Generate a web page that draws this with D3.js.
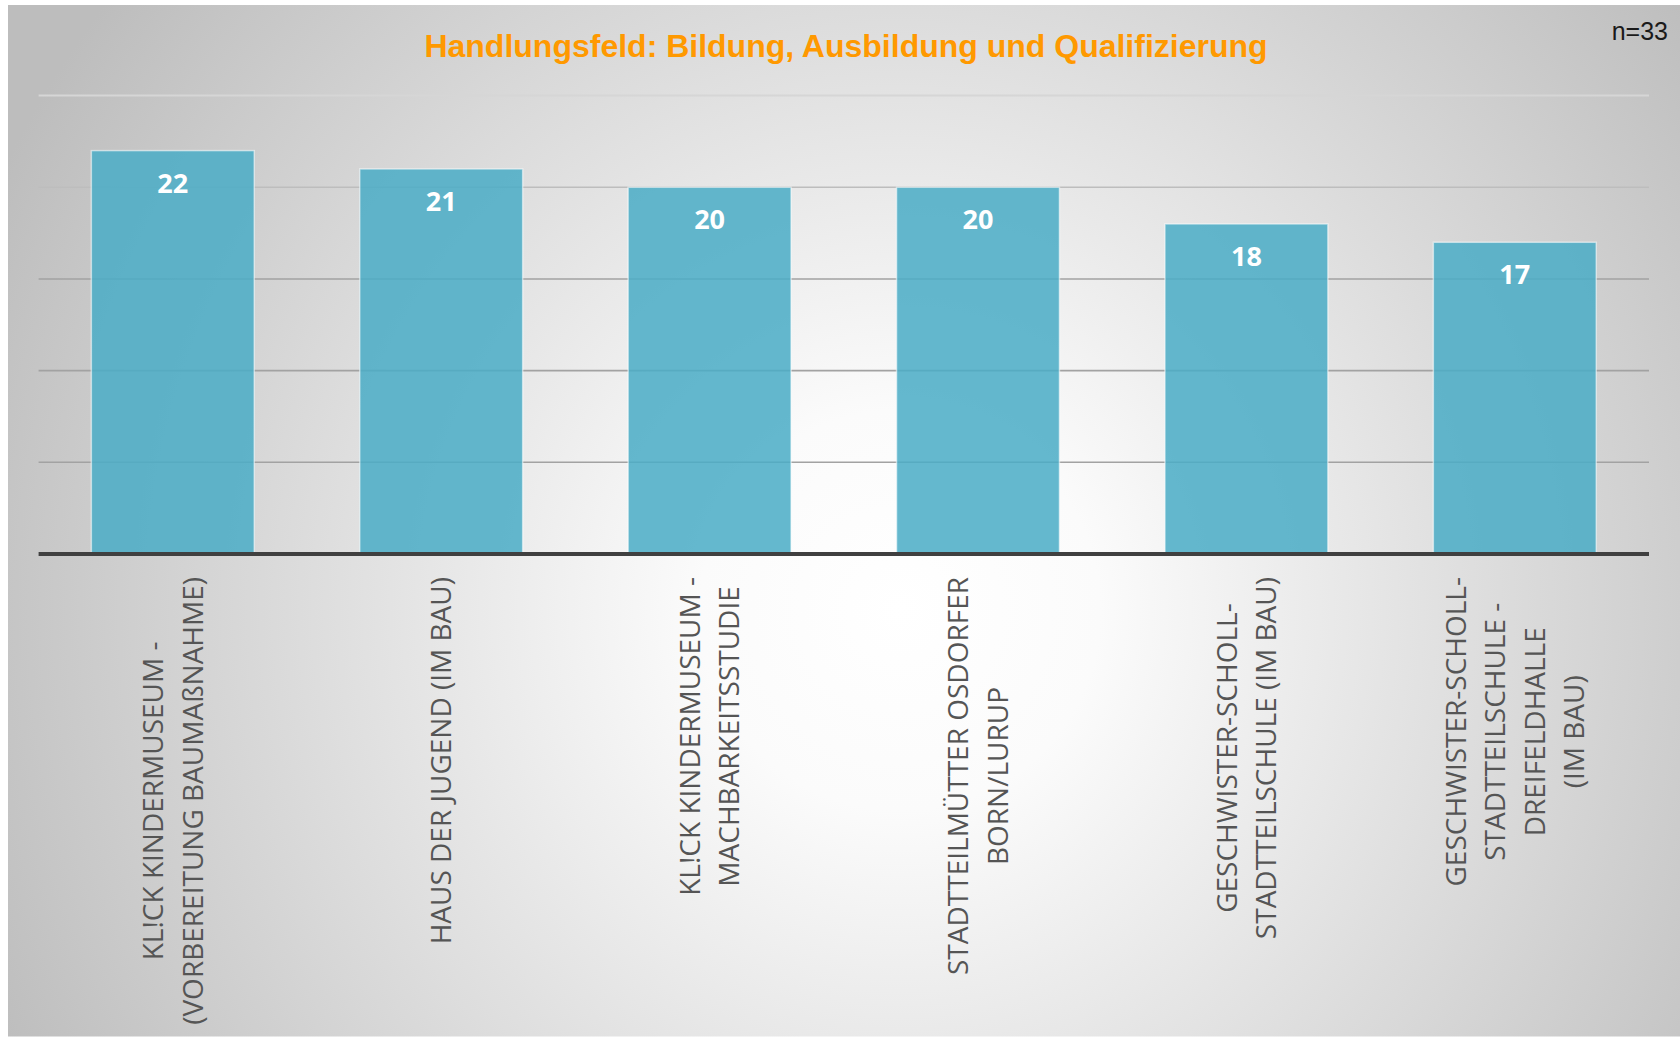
<!DOCTYPE html>
<html>
<head>
<meta charset="utf-8">
<script src="https://cdn.jsdelivr.net/npm/d3@7"></script>
<style>
  html, body { margin: 0; padding: 0; background: #fff; }
  svg { display: block; }
</style>
</head>
<body>
<svg id="chart"></svg>
<script>
const categories = [
  ["KL!CK KINDERMUSEUM -", "(VORBEREITUNG BAUMAßNAHME)"],
  ["HAUS DER JUGEND (IM BAU)"],
  ["KL!CK KINDERMUSEUM -", "MACHBARKEITSSTUDIE"],
  ["STADTTEILMÜTTER OSDORFER", "BORN/LURUP"],
  ["GESCHWISTER-SCHOLL-", "STADTTEILSCHULE (IM BAU)"],
  ["GESCHWISTER-SCHOLL-", "STADTTEILSCHULE -", "DREIFELDHALLE", "(IM BAU)"]
];
const values = [22, 21, 20, 20, 18, 17];
const gridTicks = [5, 10, 15, 20, 25];
const title = "Handlungsfeld: Bildung, Ausbildung und Qualifizierung";
const sampleNote = "n=33";

const width = 1680, height = 1038;
const margin = { left: 38.6, right: 31, top: 95.6, bottom: 484 };

const svg = d3.select("#chart")
  .attr("width", width)
  .attr("height", height);

// background with a soft radial light
const defs = svg.append("defs");
const grad = defs.append("radialGradient")
  .attr("id", "bg")
  .attr("gradientUnits", "userSpaceOnUse")
  .attr("cx", 900).attr("cy", 610).attr("r", 1000);
grad.append("stop").attr("offset", 0).attr("stop-color", "#ffffff");
grad.append("stop").attr("offset", 0.2).attr("stop-color", "#fbfbfb");
grad.append("stop").attr("offset", 1).attr("stop-color", "#bdbdbd");

svg.append("rect")
  .attr("x", 8).attr("y", 5)
  .attr("width", width - 8).attr("height", height - 6.5)
  .attr("fill", "url(#bg)");

const x = d3.scaleBand()
  .domain(d3.range(values.length))
  .range([margin.left, width - margin.right])
  .paddingInner(0.393)
  .paddingOuter(0.1965);

const y = d3.scaleLinear()
  .domain([0, 25])
  .range([height - margin.bottom, margin.top]);

// gridlines
const gridColor = d => d === 25 ? "#d6d6d6" : d === 20 ? "#bdbdbd" : "#a2a2a2";
svg.append("g")
  .selectAll("line")
  .data(gridTicks)
  .enter()
  .append("line")
  .attr("x1", margin.left)
  .attr("x2", width - margin.right)
  .attr("y1", d => y(d))
  .attr("y2", d => y(d))
  .attr("stroke", gridColor)
  .attr("stroke-width", d => d === 25 ? 2 : 1.6);

// bars
svg.append("g")
  .selectAll("rect")
  .data(values)
  .enter()
  .append("rect")
  .attr("x", (d, i) => x(i))
  .attr("y", d => y(d))
  .attr("width", x.bandwidth())
  .attr("height", d => y(0) - y(d))
  .attr("fill", "#4bacc6")
  .attr("fill-opacity", 0.86)
  .attr("stroke", "rgba(255,255,255,0.55)")
  .attr("stroke-width", 1.5);

// value labels
svg.append("g")
  .selectAll("text")
  .data(values)
  .enter()
  .append("text")
  .attr("x", (d, i) => x(i) + x.bandwidth() / 2)
  .attr("y", d => y(d) + 42)
  .attr("text-anchor", "middle")
  .attr("font-family", "'Open Sans', sans-serif")
  .attr("font-weight", "bold")
  .attr("font-size", 27)
  .attr("fill", "#ffffff")
  .text(d => d);

// x axis line
svg.append("line")
  .attr("x1", margin.left)
  .attr("x2", width - margin.right)
  .attr("y1", y(0))
  .attr("y2", y(0))
  .attr("stroke", "#404040")
  .attr("stroke-width", 4);

// rotated category labels, block starts just under the axis
const lineGap = 39.5;
const labelTop = 577;
const labels = svg.append("g")
  .selectAll("g")
  .data(categories)
  .enter()
  .append("g")
  .attr("transform", (d, i) => `translate(${x(i) + x.bandwidth() / 2}, ${labelTop}) rotate(-90)`);

labels.each(function(lines) {
  const g = d3.select(this);
  const texts = g.selectAll("text")
    .data(lines)
    .enter()
    .append("text")
    .attr("y", (d, j) => (j - (lines.length - 1) / 2) * lineGap + 10)
    .attr("text-anchor", "middle")
    .attr("font-family", "'Open Sans', sans-serif")
    .attr("font-size", 28)
    .attr("fill", "#555555")
    .text(d => d);
  const maxLen = d3.max(texts.nodes(), n => n.getComputedTextLength());
  texts.attr("x", -maxLen / 2);
});

// title
svg.append("text")
  .attr("x", 846)
  .attr("y", 57)
  .attr("text-anchor", "middle")
  .attr("font-family", "'Liberation Sans', Arial, sans-serif")
  .attr("font-weight", "bold")
  .attr("font-size", 32)
  .attr("fill", "#ff9900")
  .text(title);

svg.append("text")
  .attr("x", 1668)
  .attr("y", 40)
  .attr("text-anchor", "end")
  .attr("font-family", "'Liberation Sans', Arial, sans-serif")
  .attr("font-size", 25)
  .attr("fill", "#1a1a1a")
  .text(sampleNote);
</script>
</body>
</html>
